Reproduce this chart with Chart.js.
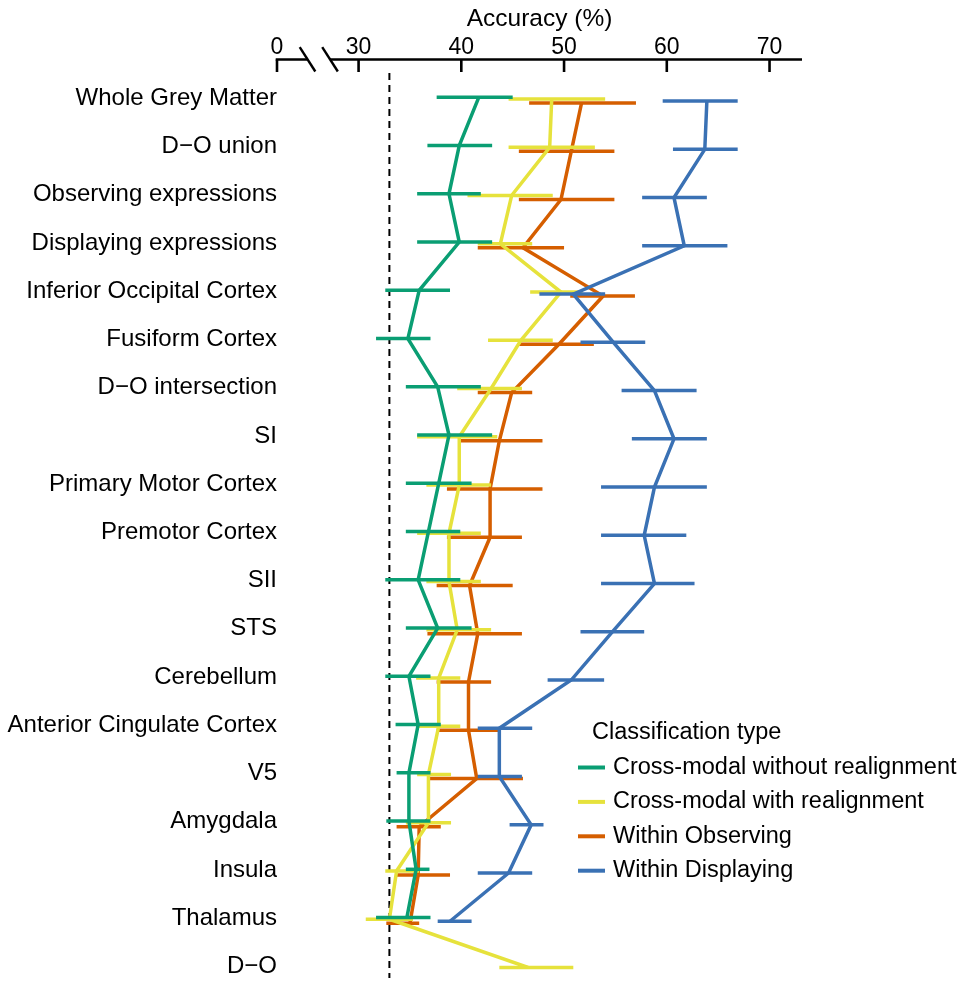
<!DOCTYPE html>
<html>
<head>
<meta charset="utf-8">
<script src="https://cdn.jsdelivr.net/npm/chart.js@4/dist/chart.umd.min.js"></script>
<style>
    html, body { margin: 0; padding: 0; background: #fff; }
    canvas { display: block; }
</style>
</head>
<body>
<canvas id="graficoAcuracia" width="973" height="983"></canvas>
<script>
// regions, top to bottom
const regions = [
    "Whole Grey Matter", "D\u2212O union", "Observing expressions", "Displaying expressions",
    "Inferior Occipital Cortex", "Fusiform Cortex", "D\u2212O intersection", "SI",
    "Primary Motor Cortex", "Premotor Cortex", "SII", "STS", "Cerebellum",
    "Anterior Cingulate Cortex", "V5", "Amygdala", "Insula", "Thalamus", "D\u2212O"
];

const xTicks = [30, 40, 50, 60, 70];
const chanceLevel = 33.0;

// Cross-modal without realignment
const crossNoRealign = [41.7, 39.8, 38.8, 39.8, 35.9, 34.8, 37.7, 38.8, 37.8, 36.8, 35.8, 37.7, 34.9, 35.8, 34.9, 34.9, 35.6, 34.7, null];
const crossNoRealignLow = [37.6, 36.7, 35.7, 35.7, 32.6, 31.7, 34.6, 35.7, 34.6, 34.6, 32.6, 34.6, 32.6, 33.6, 33.7, 32.7, 34.6, 31.7, null];
const crossNoRealignHigh = [45.0, 43.0, 41.9, 43.0, 38.9, 37.0, 41.9, 43.0, 41.0, 39.9, 39.9, 41.0, 37.0, 38.0, 37.0, 37.0, 36.9, 37.0, null];

// Cross-modal with realignment
const crossRealign = [48.8, 48.6, 44.9, 43.8, 49.7, 45.8, 42.9, 39.8, 39.8, 38.8, 38.8, 39.6, 37.8, 37.8, 36.8, 36.8, 33.7, 33.0, 46.5];
const crossRealignLow = [44.6, 44.6, 40.6, 41.6, 46.7, 42.6, 39.6, 35.7, 36.6, 35.7, 36.6, 36.6, 35.6, 35.7, 35.7, 34.6, 32.6, 30.7, 43.7];
const crossRealignHigh = [54.0, 53.0, 48.9, 46.9, 51.8, 48.9, 45.9, 43.5, 42.9, 41.9, 41.9, 42.9, 39.9, 39.9, 39.0, 39.0, 35.9, 35.3, 50.9];

// Within Observing
const withinObs = [51.7, 50.7, 49.7, 46.0, 53.8, 49.5, 44.9, 43.7, 42.8, 42.8, 40.8, 41.6, 40.7, 40.7, 41.5, 35.9, 35.8, 35.0, null];
const withinObsLow = [46.6, 45.6, 45.6, 41.6, 50.6, 45.6, 41.6, 39.7, 38.6, 38.6, 37.6, 36.7, 37.6, 37.6, 36.7, 33.7, 33.6, 32.7, null];
const withinObsHigh = [57.0, 54.9, 54.9, 50.0, 56.9, 52.9, 46.9, 47.9, 47.9, 45.9, 45.0, 45.9, 42.9, 43.8, 46.0, 38.0, 38.9, 35.9, null];

// Within Displaying
const withinDisp = [63.9, 63.7, 60.7, 61.7, 50.9, 54.8, 58.8, 60.7, 58.8, 57.8, 58.8, 54.7, 50.7, 43.7, 43.7, 46.8, 44.6, 38.9, null];
const withinDispLow = [59.6, 60.6, 57.6, 57.6, 47.6, 51.6, 55.6, 56.6, 53.6, 53.6, 53.6, 51.6, 48.4, 41.6, 41.6, 44.7, 41.6, 37.7, null];
const withinDispHigh = [66.9, 66.9, 63.9, 65.9, 54.0, 57.9, 62.9, 63.9, 63.9, 61.9, 62.7, 57.8, 53.9, 46.9, 45.9, 48.0, 46.9, 41.0, null];

const seriesNames = [
    "Cross-modal without realignment",
    "Cross-modal with realignment",
    "Within Observing",
    "Within Displaying"
];
const seriesColors = ["#0a9e73", "#e6e23c", "#d55e00", "#3a71b4"];

// small vertical shift of each series inside a row (row units)
const dodge = [-0.058, -0.023, 0.06, 0.019];
const drawOrder = [1, 2, 3, 0];

const axisZero = 22.06; // where the "0" of the broken axis sits
const fontFamily = "'Liberation Sans', Arial, Helvetica, sans-serif";

Chart.defaults.font.family = fontFamily;
Chart.defaults.color = "#000";

function points(mean, low, high, k) {
    const out = [];
    mean.forEach((m, i) => {
        if (m === null) return;
        out.push({ x: m, y: i + dodge[k], lo: low[i], hi: high[i] });
    });
    return out;
}

const allSeries = [
    points(crossNoRealign, crossNoRealignLow, crossNoRealignHigh, 0),
    points(crossRealign, crossRealignLow, crossRealignHigh, 1),
    points(withinObs, withinObsLow, withinObsHigh, 2),
    points(withinDisp, withinDispLow, withinDispHigh, 3)
];

const errorBars = {
    id: "errorBars",
    afterDatasetDraw(chart, args) {
        const ds = chart.data.datasets[args.index];
        const x = chart.scales.x;
        const y = chart.scales.y;
        const ctx = chart.ctx;
        ctx.save();
        ctx.strokeStyle = ds.borderColor;
        ctx.lineWidth = ds.borderWidth;
        ctx.lineCap = "butt";
        ds.data.forEach(p => {
            const py = y.getPixelForValue(p.y);
            ctx.beginPath();
            ctx.moveTo(x.getPixelForValue(p.lo), py);
            ctx.lineTo(x.getPixelForValue(p.hi), py);
            ctx.stroke();
        });
        ctx.restore();
    }
};

const axisDecor = {
    id: "axisDecor",
    beforeDatasetsDraw(chart) {
        const { ctx, chartArea, scales: { x } } = chart;
        const cx = x.getPixelForValue(chanceLevel);
        ctx.save();
        ctx.strokeStyle = "#000";
        ctx.lineWidth = 2;
        ctx.setLineDash([7, 5]);
        ctx.beginPath();
        ctx.moveTo(cx, chartArea.top + 14);
        ctx.lineTo(cx, 978);
        ctx.stroke();
        ctx.restore();
    },
    afterDraw(chart) {
        const { ctx, chartArea, scales: { x } } = chart;
        const top = chartArea.top + 0.5;
        const p0 = x.getPixelForValue(axisZero);
        const p30 = x.getPixelForValue(30);
        const gap = p30 - p0;
        const s1 = p0 + gap * 0.374;
        const s2 = p0 + gap * 0.65;

        ctx.save();
        ctx.strokeStyle = "#000";
        ctx.lineWidth = 2.6;
        ctx.lineCap = "butt";

        // axis line, broken between the two slashes
        ctx.beginPath();
        ctx.moveTo(p0 - 1.3, top);
        ctx.lineTo(s1, top);
        ctx.moveTo(s2, top);
        ctx.lineTo(chartArea.right, top);
        ctx.stroke();

        // inward ticks
        [axisZero].concat(xTicks).forEach(v => {
            const px = x.getPixelForValue(v);
            ctx.beginPath();
            ctx.moveTo(px, top);
            ctx.lineTo(px, top + 12.5);
            ctx.stroke();
        });

        // break slashes
        ctx.lineWidth = 2.4;
        [s1, s2].forEach(sx => {
            ctx.beginPath();
            ctx.moveTo(sx - 7.8, top - 12.4);
            ctx.lineTo(sx + 7.8, top + 12);
            ctx.stroke();
        });

        // legend
        ctx.fillStyle = "#000";
        ctx.font = "23.5px " + fontFamily;
        ctx.textBaseline = "middle";
        ctx.textAlign = "left";
        ctx.fillText("Classification type", 592, 733);
        seriesNames.forEach((name, k) => {
            const ly = 767.5 + k * 34.4;
            ctx.strokeStyle = seriesColors[k];
            ctx.lineWidth = 4;
            ctx.beginPath();
            ctx.moveTo(578, ly);
            ctx.lineTo(605, ly);
            ctx.stroke();
            ctx.fillText(name, 613, ly);
        });
        ctx.restore();
    }
};

const ctx = document.getElementById("graficoAcuracia");

new Chart(ctx, {
    type: "scatter",
    data: {
        datasets: allSeries.map((data, k) => ({
            label: seriesNames[k],
            data: data,
            showLine: true,
            borderColor: seriesColors[k],
            backgroundColor: seriesColors[k],
            borderWidth: 3.5,
            pointRadius: 0,
            pointHoverRadius: 0,
            tension: 0,
            order: drawOrder[k]
        }))
    },
    options: {
        responsive: false,
        animation: false,
        devicePixelRatio: 1,
        layout: {
            padding: { left: 0, right: 171, top: 0, bottom: 0 }
        },
        plugins: {
            legend: { display: false },
            tooltip: { enabled: false }
        },
        scales: {
            x: {
                type: "linear",
                position: "top",
                min: axisZero,
                max: 73.16,
                grid: { display: false, drawTicks: false },
                border: { display: false },
                afterBuildTicks: axis => {
                    axis.ticks = [axisZero].concat(xTicks).map(v => ({ value: v }));
                },
                afterFit: axis => {
                    axis.height = 59;
                },
                ticks: {
                    autoSkip: false,
                    padding: -2,
                    maxRotation: 0,
                    font: { size: 23 },
                    color: "#000",
                    callback: v => (v === axisZero ? "0" : String(v))
                },
                title: {
                    display: true,
                    text: "Accuracy (%)",
                    font: { size: 24.5 },
                    color: "#000",
                    padding: { top: 5, bottom: 0 }
                }
            },
            y: {
                type: "linear",
                reverse: true,
                min: -0.853,
                max: 18.0,
                grid: { display: false, drawTicks: false },
                border: { display: false },
                afterBuildTicks: axis => {
                    axis.ticks = regions.map((r, i) => ({ value: i }));
                },
                afterFit: axis => {
                    axis.width = 277;
                },
                ticks: {
                    autoSkip: false,
                    padding: 0,
                    labelOffset: -2,
                    font: { size: 24 },
                    color: "#000",
                    callback: v => regions[v]
                }
            }
        }
    },
    plugins: [errorBars, axisDecor]
});
</script>
</body>
</html>
